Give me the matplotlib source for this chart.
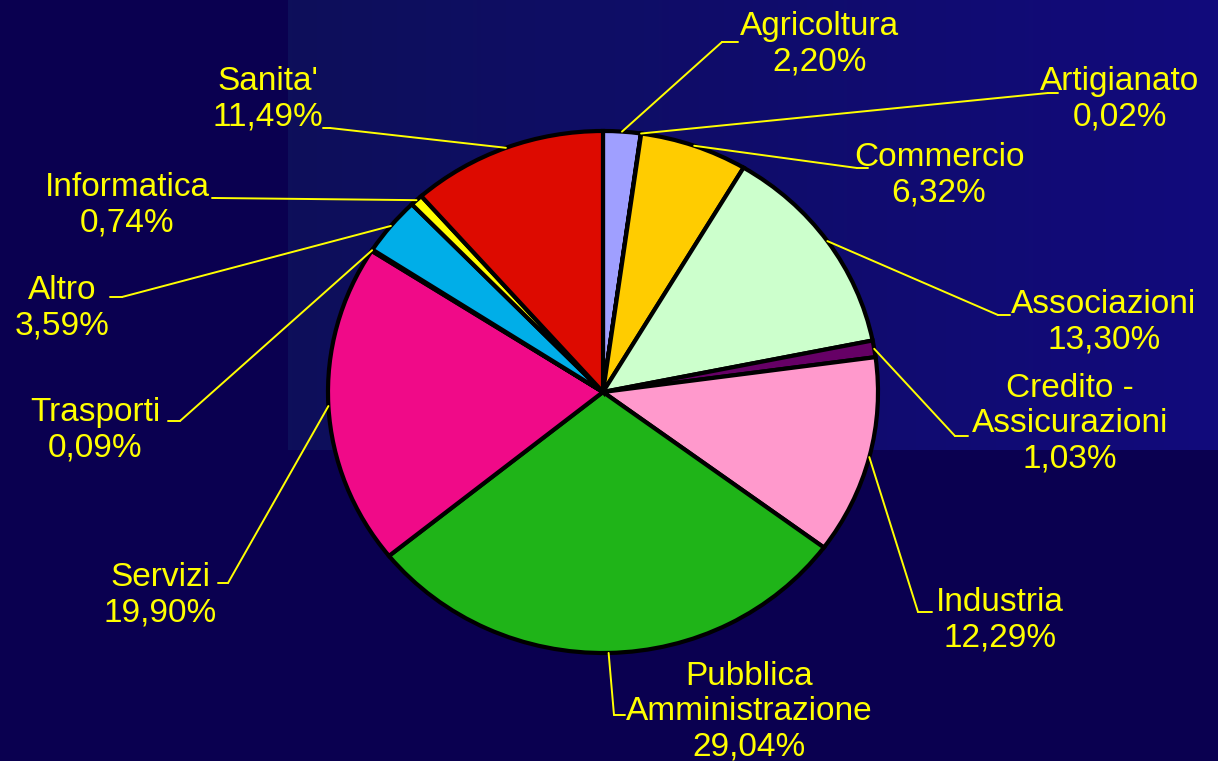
import numpy as np
import matplotlib
matplotlib.use("Agg")
import matplotlib.pyplot as plt

plt.rcParams['font.family'] = ['Liberation Sans', 'DejaVu Sans']

# data
sectors = ["Agricoltura", "Artigianato", "Commercio", "Associazioni",
           "Credito -\nAssicurazioni", "Industria", "Pubblica\nAmministrazione",
           "Servizi", "Trasporti", "Altro", "Informatica", "Sanita'"]
shares = [2.20, 0.02, 6.32, 13.30, 1.03, 12.29, 29.04, 19.90, 0.09, 3.59, 0.74, 11.49]
colors = ["#9f9fff", "#993366", "#ffcc00", "#ccffcc", "#660066", "#ff99cc",
          "#1fb418", "#f00a88", "#3366ff", "#00aee8", "#ffff00", "#dd0a00"]

# label layout (figure pixels, y measured from top): text centre, elbow, elbow end
label_pos = [(820, 44), (1120, 99), (939, 175), (1104, 322), (1070, 424), (1000, 620),
             (749, 712), (160, 595), (95, 430), (62, 308), (127, 205), (268, 99)]
elbows = [((722, 42), (738, 42)), ((1048, 93), (1058, 93)), ((857, 168), (868, 168)),
          ((998, 315), (1010, 315)), ((955, 436), (968, 436)), ((918, 612), (932, 612)),
          ((614, 715), (625, 715)), ((228, 583), (218, 583)), ((180, 421), (168, 421)),
          ((122, 297), (110, 297)), ((215, 198), (212, 198)), ((330, 128), (323, 128))]

W, H = 1218, 761
fig = plt.figure(figsize=(W / 100, H / 100), dpi=100, facecolor="#0a0050")

# background panel with a soft horizontal gradient
bg = fig.add_axes([0, 0, 1, 1], zorder=0)
bg.set_xlim(0, W)
bg.set_ylim(H, 0)
bg.axis("off")
grad = np.linspace(0, 1, 256).reshape(1, -1)
cmap = matplotlib.colors.LinearSegmentedColormap.from_list("panel", ["#0d0f5a", "#120a7c"])
bg.imshow(grad, cmap=cmap, extent=[288, W, 450, 0], aspect="auto", zorder=0)

# pie (slightly wider than tall, as in the original)
cx, cy, rx, ry = 603, 392, 275, 261
ax = fig.add_axes([(cx - rx) / W, (H - cy - ry) / H, 2 * rx / W, 2 * ry / H], zorder=2)
wedges, _ = ax.pie(shares, colors=colors, startangle=90, counterclock=False,
                   wedgeprops=dict(edgecolor="black", linewidth=3))
ax.set_xlim(-1, 1)
ax.set_ylim(-1, 1)
ax.set_aspect("auto")
ax.axis("off")
for w in wedges:
    w.set_clip_on(False)

yellow = "#ffff00"
total = sum(shares)
cum = 0.0
for name, val, (tx, ty), (e1, e2) in zip(sectors, shares, label_pos, elbows):
    mid = (cum + val / 2) / total * 360
    cum += val
    th = np.radians(90 - mid)
    anchor = (np.cos(th), np.sin(th))
    ax.annotate("", xy=anchor, xycoords="data", xytext=(e1[0], H - e1[1]),
                textcoords="figure pixels", annotation_clip=False,
                arrowprops=dict(arrowstyle="-", color=yellow, lw=1.4,
                                shrinkA=0, shrinkB=0))
    ax.annotate("", xy=(e1[0], H - e1[1]), xycoords="figure pixels",
                xytext=(e2[0], H - e2[1]), textcoords="figure pixels",
                annotation_clip=False,
                arrowprops=dict(arrowstyle="-", color=yellow, lw=1.4,
                                shrinkA=0, shrinkB=0))
    pct = f"{val:.2f}%".replace(".", ",")
    fig.text(tx / W, 1 - ty / H, f"{name}\n{pct}", color=yellow, fontsize=24,
             ha="center", va="center", multialignment="center", linespacing=1.18,
             zorder=3)

fig.savefig("out.png", dpi=100, facecolor=fig.get_facecolor())
